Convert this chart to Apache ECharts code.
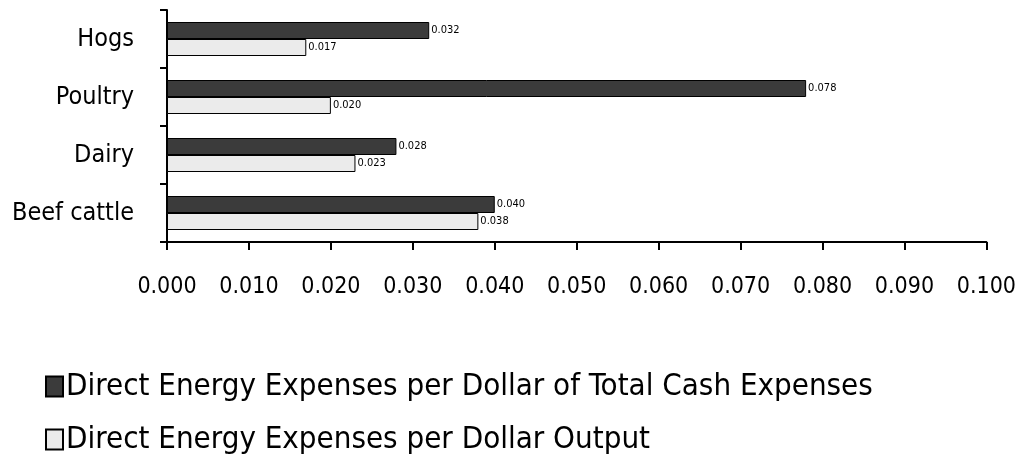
<!DOCTYPE html>
<html><head><meta charset="utf-8">
<script src="https://cdn.jsdelivr.net/npm/echarts@6/dist/echarts.min.js"></script>
<style>html,body{margin:0;padding:0;background:#fff}#c{width:1019px;height:457px}</style>
</head><body><div id="c"></div>
<script>
const categories = ['Beef cattle', 'Dairy', 'Poultry', 'Hogs'];
const seriesNames = ['Direct Energy Expenses per Dollar of Total Cash Expenses', 'Direct Energy Expenses per Dollar Output'];
const totalCashValues = [0.040, 0.028, 0.078, 0.032];
const outputValues = [0.038, 0.023, 0.020, 0.017];
const xTicks = [0, 0.1, 0.01];

const font = '"Liberation Sans Narrow", "DejaVu Sans Condensed", sans-serif';
const legendBase = {
  orient: 'vertical', left: 40,
  itemWidth: 17, itemHeight: 20, icon: 'rect',
  textStyle: {fontFamily: font, fontSize: 31, color: '#000', padding: [0, 0, 0, -2]}
};
const chart = echarts.init(document.getElementById('c'));
chart.setOption({
  backgroundColor: '#fff',
  animation: false,
  grid: {left: 167, right: 27, top: 10, bottom: 215},
  legend: [
    Object.assign({}, legendBase, {top: 366, data: [seriesNames[0]]}),
    Object.assign({}, legendBase, {top: 419, data: [seriesNames[1]]})
  ],
  xAxis: {
    type: 'value', min: xTicks[0], max: xTicks[1], interval: xTicks[2],
    axisLine: {show: true, lineStyle: {color: '#000', width: 2}},
    axisTick: {show: true, length: 8, lineStyle: {color: '#000', width: 2}},
    splitLine: {show: false},
    axisLabel: {fontFamily: font, fontSize: 23, color: '#000', margin: 34,
      formatter: v => v.toFixed(3)}
  },
  yAxis: {
    type: 'category', data: categories,
    axisLine: {show: true, lineStyle: {color: '#000', width: 2}},
    axisTick: {show: true, length: 7, lineStyle: {color: '#000', width: 2}},
    axisLabel: {fontFamily: font, fontSize: 25, color: '#000', margin: 33, padding: [5, 0, 0, 0]}
  },
  series: [
    {name: seriesNames[0], type: 'bar', data: totalCashValues, barWidth: 17, barGap: '0%',
     itemStyle: {color: '#3b3b3b', borderColor: '#000', borderWidth: 1},
     label: {show: true, position: 'right', distance: 2, fontFamily: font, fontSize: 11, color: '#000',
       formatter: p => p.value.toFixed(3)}},
    {name: seriesNames[1], type: 'bar', data: outputValues, barWidth: 17, barGap: '0%',
     itemStyle: {color: '#ebebeb', borderColor: '#000', borderWidth: 1},
     label: {show: true, position: 'right', distance: 2, fontFamily: font, fontSize: 11, color: '#000',
       formatter: p => p.value.toFixed(3)}}
  ]
});
</script></body></html>
